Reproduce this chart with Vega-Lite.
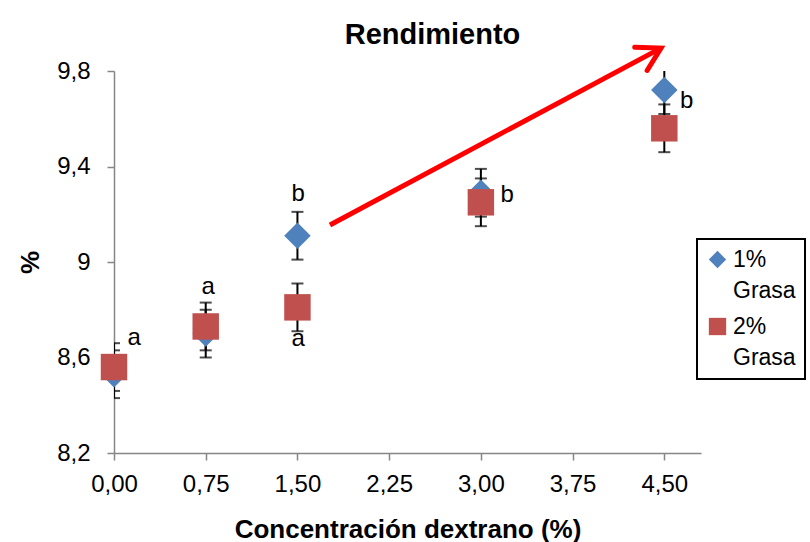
{
  "$schema": "https://vega.github.io/schema/vega-lite/v6.json",
  "width": 587,
  "height": 382,
  "autosize": {"type": "none"},
  "padding": {"left": 114, "top": 71, "right": 109, "bottom": 89},
  "background": "white",
  "config": {
    "view": {"stroke": null},
    "font": "Liberation Sans",
    "style": {"guide-label": {"lineHeight": 31}},
    "axis": {
      "grid": false,
      "domainColor": "#868686",
      "domainWidth": 1.5,
      "tickColor": "#868686",
      "tickWidth": 1.5,
      "tickSize": 7,
      "labelFlush": false,
      "labelFont": "Liberation Sans",
      "labelFontSize": 24,
      "labelColor": "#000000",
      "titleFont": "Liberation Sans",
      "titleFontSize": 26,
      "titleFontWeight": "bold",
      "titleColor": "#000000"
    },
    "legend": {"strokeWidth": 2}
  },
  "title": {
    "text": "Rendimiento",
    "font": "Liberation Sans",
    "fontSize": 29,
    "fontWeight": "bold",
    "color": "#000000",
    "anchor": "middle",
    "dx": 25,
    "offset": -13
  },
  "datasets": {
    "rendimiento": [
      {"dextrano": 0.0, "series": "1% Grasa", "mean": 8.53, "lo": 8.43, "hi": 8.63},
      {"dextrano": 0.75, "series": "1% Grasa", "mean": 8.70, "lo": 8.60, "hi": 8.80},
      {"dextrano": 1.5, "series": "1% Grasa", "mean": 9.11, "lo": 9.01, "hi": 9.21},
      {"dextrano": 3.0, "series": "1% Grasa", "mean": 9.29, "lo": 9.19, "hi": 9.39},
      {"dextrano": 4.5, "series": "1% Grasa", "mean": 9.72, "lo": 9.62, "hi": 9.82},
      {"dextrano": 0.0, "series": "2% Grasa", "mean": 8.56, "lo": 8.46, "hi": 8.66},
      {"dextrano": 0.75, "series": "2% Grasa", "mean": 8.73, "lo": 8.63, "hi": 8.83},
      {"dextrano": 1.5, "series": "2% Grasa", "mean": 8.81, "lo": 8.71, "hi": 8.91},
      {"dextrano": 3.0, "series": "2% Grasa", "mean": 9.25, "lo": 9.15, "hi": 9.35},
      {"dextrano": 4.5, "series": "2% Grasa", "mean": 9.56, "lo": 9.46, "hi": 9.66}
    ],
    "letras": [
      {"x": 0.164, "y": 8.68, "letra": "a"},
      {"x": 0.771, "y": 8.897, "letra": "a"},
      {"x": 1.505, "y": 8.676, "letra": "a"},
      {"x": 1.507, "y": 9.286, "letra": "b"},
      {"x": 3.216, "y": 9.281, "letra": "b"},
      {"x": 4.683, "y": 9.676, "letra": "b"}
    ],
    "flecha": [
      {"x": 1.766, "y": 9.155, "parte": "inicio"},
      {"x": 4.473, "y": 9.896, "parte": "punta"}
    ]
  },
  "layer": [
    {
      "data": {"name": "rendimiento"},
      "mark": {"type": "rule", "color": "#000000", "strokeWidth": 2, "clip": true},
      "encoding": {
        "x": {
          "field": "dextrano",
          "type": "quantitative",
          "scale": {"domain": [0, 4.8], "nice": false, "zero": false},
          "axis": {
            "values": [0, 0.75, 1.5, 2.25, 3, 3.75, 4.5],
            "labelExpr": "replace(format(datum.value, '.2f'), '.', ',')",
            "labelPadding": 12,
            "title": "Concentración dextrano (%)",
            "titlePadding": 20
          }
        },
        "y": {
          "field": "lo",
          "type": "quantitative",
          "scale": {"domain": [8.2, 9.8], "nice": false, "zero": false},
          "axis": {
            "values": [8.2, 8.6, 9, 9.4, 9.8],
            "labelExpr": "replace(format(datum.value, '.2~f'), '.', ',')",
            "labelPadding": 17,
            "title": "%",
            "titlePadding": 13
          }
        },
        "y2": {"field": "hi"}
      }
    },
    {
      "data": {"name": "rendimiento"},
      "mark": {"type": "tick", "orient": "horizontal", "color": "#000000", "size": 12, "thickness": 2, "clip": true},
      "encoding": {
        "x": {"field": "dextrano", "type": "quantitative"},
        "y": {"field": "lo", "type": "quantitative"}
      }
    },
    {
      "data": {"name": "rendimiento"},
      "mark": {"type": "tick", "orient": "horizontal", "color": "#000000", "size": 12, "thickness": 2, "clip": true},
      "encoding": {
        "x": {"field": "dextrano", "type": "quantitative"},
        "y": {"field": "hi", "type": "quantitative"}
      }
    },
    {
      "data": {"name": "rendimiento"},
      "mark": {"type": "point", "filled": true, "opacity": 1, "size": 700, "strokeWidth": 0},
      "encoding": {
        "x": {"field": "dextrano", "type": "quantitative"},
        "y": {"field": "mean", "type": "quantitative"},
        "color": {
          "field": "series",
          "type": "nominal",
          "scale": {"domain": ["1% Grasa", "2% Grasa"], "range": ["#4F81BD", "#C0504D"]},
          "legend": {
            "title": null,
            "orient": "none",
            "legendX": 583,
            "legendY": 168,
            "labelExpr": "split(datum.label, ' ')",
            "labelFont": "Liberation Sans",
            "labelFontSize": 23,
            "labelColor": "#000000",
            "labelLimit": 200,
            "labelOffset": 4,
            "symbolSize": 300,
            "symbolStrokeWidth": 0,
            "symbolOpacity": 1,
            "strokeColor": "#000000",
            "padding": 9,
            "rowPadding": 12
          }
        },
        "shape": {
          "field": "series",
          "type": "nominal",
          "scale": {"domain": ["1% Grasa", "2% Grasa"], "range": ["diamond", "square"]},
          "legend": {
            "title": null,
            "orient": "none",
            "legendX": 583,
            "legendY": 168,
            "labelExpr": "split(datum.label, ' ')",
            "labelFont": "Liberation Sans",
            "labelFontSize": 23,
            "labelColor": "#000000",
            "labelLimit": 200,
            "labelOffset": 4,
            "symbolSize": 300,
            "symbolStrokeWidth": 0,
            "symbolOpacity": 1,
            "strokeColor": "#000000",
            "padding": 9,
            "rowPadding": 12
          }
        }
      }
    },
    {
      "data": {"name": "letras"},
      "mark": {"type": "text", "font": "Liberation Sans", "fontSize": 24, "color": "#000000", "baseline": "middle", "align": "center"},
      "encoding": {
        "x": {"field": "x", "type": "quantitative"},
        "y": {"field": "y", "type": "quantitative"},
        "text": {"field": "letra", "type": "nominal"}
      }
    },
    {
      "data": {"name": "flecha"},
      "mark": {"type": "line", "color": "#FF0000", "strokeWidth": 5, "clip": false},
      "encoding": {
        "x": {"field": "x", "type": "quantitative"},
        "y": {"field": "y", "type": "quantitative"}
      }
    },
    {
      "data": {"name": "flecha"},
      "transform": [{"filter": "datum.parte === 'punta'"}],
      "mark": {
        "type": "point",
        "shape": "M-0.55,0.95L0,0L0.55,0.95",
        "filled": false,
        "color": "#FF0000",
        "strokeWidth": 5,
        "strokeCap": "round",
        "strokeJoin": "miter",
        "size": 2300,
        "angle": 61.9,
        "opacity": 1,
        "clip": false
      },
      "encoding": {
        "x": {"field": "x", "type": "quantitative"},
        "y": {"field": "y", "type": "quantitative"}
      }
    }
  ]
}
